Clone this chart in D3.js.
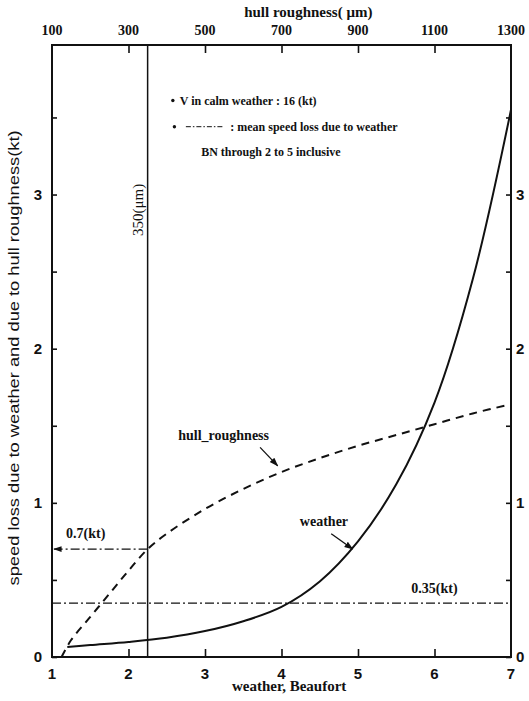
<!DOCTYPE html>
<html>
<head>
<meta charset="utf-8">
<script src="https://cdn.jsdelivr.net/npm/d3@7"></script>
<style>
  body { margin: 0; background: #fff; overflow: hidden; }
  svg { display: block; }
  text { fill: #111; }
</style>
</head>
<body>
<div id="chart"></div>
<script>
// beaufort scale (bottom) and hull roughness scale (top)
const beaufortTicks = [1, 2, 3, 4, 5, 6, 7];
const roughnessTicks = [100, 300, 500, 700, 900, 1100, 1300];
const speedTicks = [0, 1, 2, 3];

// speed loss due to weather, vs beaufort number
const weatherBN = [1.2, 1.5, 2, 2.5, 3, 3.5, 4, 4.5, 5, 5.5, 6, 6.5, 7];
const weatherLoss = [0.065, 0.078, 0.098, 0.125, 0.168, 0.232, 0.325, 0.49, 0.75, 1.12, 1.65, 2.45, 3.55];

// speed loss due to hull roughness, vs roughness (um)
const hullUm = [125, 150, 200, 250, 300, 350, 400, 500, 600, 700, 800, 900, 1000, 1100, 1200, 1300];
const hullLoss = [0, 0.11, 0.26, 0.41, 0.56, 0.7, 0.8, 0.96, 1.09, 1.2, 1.29, 1.37, 1.44, 1.51, 1.58, 1.64];

const meanWeatherLoss = 0.35;
const roughnessMark = 350;
const hullAtMark = 0.7;

const width = 529;
const height = 701;
const margin = { top: 45, right: 18, bottom: 44, left: 52 };
const innerWidth = width - margin.left - margin.right;
const innerHeight = height - margin.top - margin.bottom;

const x = d3.scaleLinear().domain([1, 7]).range([0, innerWidth]);
const xTop = d3.scaleLinear().domain([100, 1300]).range([0, innerWidth]);
const y = d3.scaleLinear().domain([0, 3.97]).range([innerHeight, 0]);

const svg = d3.select("#chart")
  .append("svg")
  .attr("width", width)
  .attr("height", height);

svg.append("defs").append("marker")
  .attr("id", "arr")
  .attr("viewBox", "0 0 10 10")
  .attr("refX", 9).attr("refY", 5)
  .attr("markerWidth", 7).attr("markerHeight", 7)
  .attr("orient", "auto")
  .append("path")
  .attr("d", "M0,1.5L10,5L0,8.5Z")
  .attr("fill", "#111");

const g = svg.append("g")
  .attr("transform", `translate(${margin.left},${margin.top})`);

const serif = "'Liberation Serif', 'DejaVu Serif', serif";
const sans = "'Liberation Sans', Arial, sans-serif";

//axes with inward ticks
g.append("g")
  .call(d3.axisLeft(y).tickValues(d3.range(0, 4, 0.5)).tickSize(-5).tickFormat(""))
  .call((a) => a.select(".domain").remove());
g.append("g")
  .attr("transform", `translate(${innerWidth},0)`)
  .call(d3.axisRight(y).tickValues(d3.range(0, 4, 0.5)).tickSize(-5).tickFormat(""))
  .call((a) => a.select(".domain").remove());
g.append("g")
  .attr("transform", `translate(0,${innerHeight})`)
  .call(d3.axisBottom(x).tickValues(beaufortTicks.slice(1, -1)).tickSize(-8).tickFormat(""))
  .call((a) => a.select(".domain").remove());
g.append("g")
  .call(d3.axisTop(xTop).tickValues(roughnessTicks.slice(1, -1)).tickSize(-8).tickFormat(""))
  .call((a) => a.select(".domain").remove());
g.selectAll(".tick line").attr("stroke", "#111").attr("stroke-width", 1.6);

//tick labels
g.selectAll("text.yl")
  .data(speedTicks)
  .join("text")
  .attr("x", -10).attr("y", (d) => y(d) + 5)
  .attr("text-anchor", "end")
  .attr("font-family", sans).attr("font-weight", "bold").attr("font-size", 15)
  .text((d) => d);
g.selectAll("text.yr")
  .data(speedTicks)
  .join("text")
  .attr("x", innerWidth + 5).attr("y", (d) => y(d) + 5)
  .attr("font-family", sans).attr("font-weight", "bold").attr("font-size", 15)
  .text((d) => d);
g.selectAll("text.xl")
  .data(beaufortTicks)
  .join("text")
  .attr("x", (d) => x(d)).attr("y", innerHeight + 22)
  .attr("text-anchor", "middle")
  .attr("font-family", sans).attr("font-weight", "bold").attr("font-size", 15)
  .text((d) => d);
g.selectAll("text.tl")
  .data(roughnessTicks)
  .join("text")
  .attr("x", (d) => xTop(d)).attr("y", -10)
  .attr("text-anchor", "middle")
  .attr("font-family", serif).attr("font-weight", "bold").attr("font-size", 14)
  .text((d) => d);

//axis titles
svg.append("text")
  .attr("x", margin.left + x(4.1)).attr("y", 691)
  .attr("text-anchor", "middle")
  .attr("font-family", serif).attr("font-weight", "bold").attr("font-size", 15)
  .text("weather, Beaufort");
svg.append("text")
  .attr("x", margin.left + xTop(770)).attr("y", 17)
  .attr("text-anchor", "middle")
  .attr("font-family", serif).attr("font-weight", "bold").attr("font-size", 15)
  .text("hull roughness( μm)");
svg.append("text")
  .attr("transform", `translate(19,${margin.top + y(1.94)}) rotate(-90)`)
  .attr("text-anchor", "middle")
  .attr("font-family", sans).attr("font-size", 15)
  .attr("textLength", 455).attr("lengthAdjust", "spacingAndGlyphs")
  .text("speed loss due to weather and due to hull roughness(kt)");

//reference lines
g.append("line")
  .attr("x1", xTop(roughnessMark)).attr("x2", xTop(roughnessMark))
  .attr("y1", 0).attr("y2", innerHeight)
  .attr("stroke", "#111").attr("stroke-width", 1.5);
g.append("text")
  .attr("transform", `translate(${xTop(roughnessMark) - 5},${y(2.9)}) rotate(-90)`)
  .attr("text-anchor", "middle")
  .attr("font-family", serif).attr("font-size", 15)
  .text("350(μm)");

g.append("line")
  .attr("x1", 0).attr("x2", innerWidth)
  .attr("y1", y(meanWeatherLoss)).attr("y2", y(meanWeatherLoss))
  .attr("stroke", "#111").attr("stroke-width", 1.2)
  .attr("stroke-dasharray", "9,3,2,3");
g.append("text")
  .attr("x", x(6.0)).attr("y", y(meanWeatherLoss) - 10)
  .attr("text-anchor", "middle")
  .attr("font-family", serif).attr("font-weight", "bold").attr("font-size", 14)
  .text("0.35(kt)");

g.append("line")
  .attr("x1", xTop(roughnessMark)).attr("x2", 2)
  .attr("y1", y(hullAtMark)).attr("y2", y(hullAtMark))
  .attr("stroke", "#111").attr("stroke-width", 1.2)
  .attr("stroke-dasharray", "9,3,2,3")
  .attr("marker-end", "url(#arr)");
g.append("text")
  .attr("x", x(1.44)).attr("y", y(hullAtMark) - 11)
  .attr("text-anchor", "middle")
  .attr("font-family", serif).attr("font-weight", "bold").attr("font-size", 14)
  .text("0.7(kt)");

//curves
const weatherLine = d3.line()
  .x((d, i) => x(weatherBN[i]))
  .y((d) => y(d))
  .curve(d3.curveCatmullRom);
g.append("path")
  .attr("d", weatherLine(weatherLoss))
  .attr("fill", "none").attr("stroke", "#111").attr("stroke-width", 2);

const hullLine = d3.line()
  .x((d, i) => xTop(hullUm[i]))
  .y((d) => y(d))
  .curve(d3.curveCatmullRom);
g.append("path")
  .attr("d", hullLine(hullLoss))
  .attr("fill", "none").attr("stroke", "#111").attr("stroke-width", 2)
  .attr("stroke-dasharray", "8,6");

//curve labels
g.append("text")
  .attr("x", x(2.65)).attr("y", y(1.41))
  .attr("font-family", serif).attr("font-weight", "bold").attr("font-size", 14)
  .text("hull_roughness");
g.append("line")
  .attr("x1", x(3.72)).attr("y1", y(1.36))
  .attr("x2", x(3.95)).attr("y2", y(1.24))
  .attr("stroke", "#111").attr("stroke-width", 1.3)
  .attr("marker-end", "url(#arr)");
g.append("text")
  .attr("x", x(4.24)).attr("y", y(0.85))
  .attr("font-family", serif).attr("font-weight", "bold").attr("font-size", 14)
  .text("weather");
g.append("line")
  .attr("x1", x(4.65)).attr("y1", y(0.8))
  .attr("x2", x(4.93)).attr("y2", y(0.7))
  .attr("stroke", "#111").attr("stroke-width", 1.3)
  .attr("marker-end", "url(#arr)");

//notes
const notes = g.append("g")
  .attr("font-family", serif).attr("font-weight", "bold").attr("font-size", 12);
notes.append("circle").attr("cx", x(2.58)).attr("cy", y(3.61)).attr("r", 1.7).attr("fill", "#111");
notes.append("text").attr("x", x(2.67)).attr("y", y(3.58)).text("V in calm weather : 16 (kt)");
notes.append("circle").attr("cx", x(2.6)).attr("cy", y(3.44)).attr("r", 1.7).attr("fill", "#111");
notes.append("line")
  .attr("x1", x(2.75)).attr("x2", x(3.25))
  .attr("y1", y(3.44)).attr("y2", y(3.44))
  .attr("stroke", "#111").attr("stroke-width", 1)
  .attr("stroke-dasharray", "5,2,1.5,2");
notes.append("text").attr("x", x(3.33)).attr("y", y(3.41)).text(": mean speed loss due to weather");
notes.append("text").attr("x", x(2.95)).attr("y", y(3.25)).text("BN through 2 to 5 inclusive");

//frame
g.append("rect")
  .attr("width", innerWidth).attr("height", innerHeight)
  .attr("fill", "none").attr("stroke", "#111").attr("stroke-width", 2);
</script>
</body>
</html>
